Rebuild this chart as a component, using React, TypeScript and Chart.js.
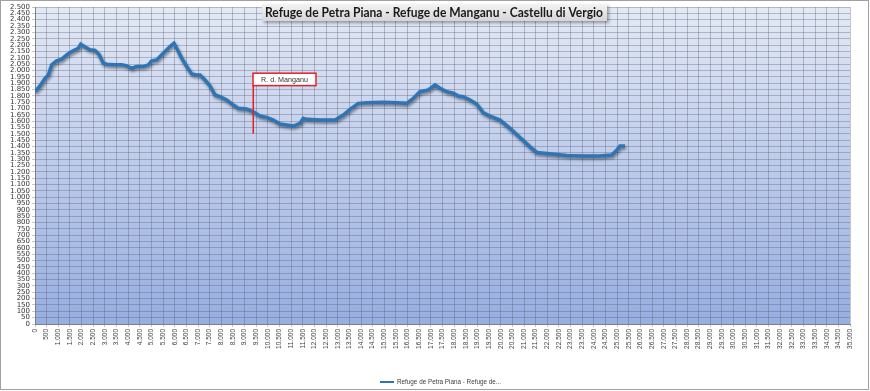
import React, { useEffect, useRef } from "react";
import { Chart, registerables } from "chart.js";

Chart.register(...registerables);

const TITLE = "Refuge de Petra Piana - Refuge de Manganu - Castellu di Vergio";
const SERIES_LABEL = "Refuge de Petra Piana - Refuge de...";
const LEGEND_TEXT = "Refuge de Petra Piana - Refuge de...";

// distance (m)
const distances = [
  0, 215, 429, 571, 717, 932, 1147, 1361, 1503, 1718, 1859, 1963, 2147, 2362, 2577, 2761,
  2933, 3079, 3363, 3723, 3938, 4153, 4367, 4651, 4866, 5012, 5226, 5368, 5583, 5797, 5969,
  6085, 6300, 6515, 6730, 6944, 7086, 7301, 7515, 7730, 7945, 8233, 8516, 8731, 9091, 9375,
  9663, 9950, 10234, 10522, 10809, 11093, 11380, 11522, 11668, 12239, 12883, 13240, 13528,
  13884, 14245, 14958, 15533, 15962, 16246, 16534, 16890, 17178, 17394, 17681, 17964, 18179,
  18394, 18681, 18969, 19252, 19540, 19969, 20399, 20828, 21258, 21546, 21975, 22834, 23546,
  24264, 24766, 24981, 25123, 25337,
];
// elevation (m)
const elevations = [
  1833, 1878, 1938, 1964, 2044, 2075, 2089, 2123, 2141, 2162, 2175, 2207, 2184, 2162, 2157, 2123,
  2057, 2049, 2044, 2044, 2036, 2017, 2030, 2030, 2044, 2075, 2083, 2109, 2149, 2188, 2215,
  2175, 2097, 2030, 1972, 1964, 1964, 1925, 1877, 1806, 1793, 1767, 1727, 1701, 1695, 1674,
  1640, 1630, 1608, 1577, 1569, 1561, 1582, 1622, 1614, 1608, 1608, 1648, 1693,
  1740, 1745, 1748, 1745, 1740, 1780, 1832, 1846, 1885, 1859, 1832, 1820, 1798,
  1793, 1767, 1735, 1666, 1640, 1608, 1543, 1471, 1397, 1353, 1345, 1329, 1324,
  1324, 1332, 1371, 1403, 1403,
];

const xTickMin = 0;
const xTickMax = 35000;
const xTickStep = 500;
const yTickMin = 0;
const yTickMax = 2500;
const yTickStep = 50;

// annotation
const annotationLabel = "R. d. Manganu";
const annotationDistance = 9349;
const annotationBottomElev = 1500;
const annotationBoxBottomElev = 1880;
const annotationBoxTopElev = 1978;

const LINE_COLOR = "#2f74b5";

function fmt(v: number): string {
  const s = Math.round(v).toString();
  return s.replace(/\B(?=(\d{3})+(?!\d))/g, ".");
}

function stretchedText(ctx: CanvasRenderingContext2D, text: string, x: number, y: number, targetW: number, align: "left" | "center") {
  const w = ctx.measureText(text).width;
  const sx = targetW / w;
  ctx.save();
  ctx.translate(x, y);
  ctx.scale(sx, 1);
  ctx.textAlign = align;
  ctx.fillText(text, 0, 0);
  ctx.restore();
}

const bgPlugin = {
  id: "bgPlugin",
  beforeDraw(chart: any) {
    const { ctx, chartArea: a } = chart;
    ctx.save();
    ctx.fillStyle = "#ffffff";
    ctx.fillRect(0, 0, chart.width, chart.height);
    const g = ctx.createLinearGradient(0, a.top, 0, a.bottom);
    g.addColorStop(0, "#e3e9f5");
    g.addColorStop(1, "#97aee1");
    ctx.fillStyle = g;
    ctx.fillRect(a.left, a.top, a.right - a.left, a.bottom - a.top);
    ctx.restore();
  },
  beforeDatasetsDraw(chart: any) {
    const ctx = chart.ctx;
    ctx.save();
    ctx.shadowColor = "rgba(0,0,0,0.45)";
    ctx.shadowBlur = 3;
    ctx.shadowOffsetX = 1;
    ctx.shadowOffsetY = 2;
  },
  afterDatasetsDraw(chart: any) {
    chart.ctx.restore();
  },
  afterDraw(chart: any) {
    const { ctx, scales } = chart;
    const xs = scales.x;
    const ys = scales.y;
    ctx.save();

    // annotation
    const ax = Math.round(xs.getPixelForValue(annotationDistance));
    const yb = ys.getPixelForValue(annotationBottomElev);
    const bb = ys.getPixelForValue(annotationBoxBottomElev);
    const bt = ys.getPixelForValue(annotationBoxTopElev);
    ctx.fillStyle = "#e4202a";
    ctx.fillRect(ax - 0.5, bb, 1.5, yb - bb);
    ctx.fillStyle = "#ffffff";
    ctx.fillRect(ax, bt, 63, bb - bt);
    ctx.strokeStyle = "#e4202a";
    ctx.lineWidth = 1.5;
    ctx.strokeRect(ax, bt, 63, bb - bt);
    ctx.fillStyle = "#333333";
    ctx.font = "7px 'Liberation Sans'";
    ctx.textBaseline = "middle";
    stretchedText(ctx, annotationLabel, ax + 31.5, (bt + bb) / 2 + 0.5, 47, "center");

    // title box
    ctx.save();
    ctx.shadowColor = "rgba(0,0,0,0.35)";
    ctx.shadowBlur = 3;
    ctx.shadowOffsetX = 2;
    ctx.shadowOffsetY = 2;
    const tg = ctx.createLinearGradient(0, 4, 0, 21);
    tg.addColorStop(0, "#f3f3f3");
    tg.addColorStop(1, "#d6d6d6");
    ctx.fillStyle = tg;
    ctx.fillRect(262, 4, 345, 17);
    ctx.restore();
    ctx.fillStyle = "#1a1a1a";
    ctx.font = "bold 13px Lato";
    ctx.textBaseline = "middle";
    stretchedText(ctx, TITLE, 434, 13, 338, "center");

    // legend
    ctx.strokeStyle = LINE_COLOR;
    ctx.lineWidth = 2;
    ctx.beginPath();
    ctx.moveTo(380, 382);
    ctx.lineTo(394, 382);
    ctx.stroke();
    ctx.fillStyle = "#404040";
    ctx.font = "7px 'Liberation Sans'";
    ctx.textBaseline = "middle";
    stretchedText(ctx, LEGEND_TEXT, 397, 382.5, 104, "left");

    // outer border
    ctx.strokeStyle = "#a0a0a0";
    ctx.lineWidth = 1;
    ctx.strokeRect(0.5, 0.5, chart.width - 2, chart.height - 2);
    ctx.restore();
  },
};

export default function App() {
  const ref = useRef<HTMLCanvasElement | null>(null);
  useEffect(() => {
    if (!ref.current) return;
    const points = distances.map((d, i) => ({ x: d, y: elevations[i] }));
    const gridColor = "rgba(85,90,110,0.35)";
    const chart = new Chart(ref.current, {
      type: "line",
      data: {
        datasets: [
          {
            label: SERIES_LABEL,
            data: points,
            borderColor: LINE_COLOR,
            borderWidth: 3.5,
            pointRadius: 0,
            tension: 0,
            fill: false,
          },
        ],
      },
      options: {
        animation: false,
        responsive: false,
        maintainAspectRatio: false,
        layout: { padding: { left: 0, top: 7, right: 20, bottom: 0 } },
        plugins: {
          legend: { display: false },
          title: { display: false },
          tooltip: { enabled: false },
        },
        scales: {
          x: {
            type: "linear",
            min: xTickMin,
            max: xTickMax,
            afterFit: (s: any) => {
              s.height = 67;
            },
            ticks: {
              stepSize: xTickStep,
              autoSkip: false,
              minRotation: 90,
              maxRotation: 90,
              padding: 2,
              color: "#404040",
              font: { family: "'Liberation Sans'", size: 6.5 },
              callback: (v: any) => fmt(Number(v)),
            },
            grid: { color: gridColor, lineWidth: 1, tickLength: 3 },
            border: { color: "#808080" },
          },
          y: {
            min: yTickMin,
            max: yTickMax,
            afterFit: (s: any) => {
              s.width = 35;
            },
            ticks: {
              stepSize: yTickStep,
              autoSkip: false,
              padding: 2,
              color: "#333333",
              font: { family: "'DejaVu Sans'", size: 7 },
              callback: (v: any) => fmt(Number(v)),
            },
            grid: { color: gridColor, lineWidth: 1, tickLength: 3 },
            border: { color: "#808080" },
          },
        },
      },
      plugins: [bgPlugin],
    });
    return () => chart.destroy();
  }, []);
  return (
    <div style={{ position: "fixed", left: 0, top: 0, width: 870, height: 391, background: "#fff" }}>
      <canvas ref={ref} width={870} height={391} style={{ width: 870, height: 391, display: "block" }} />
    </div>
  );
}
